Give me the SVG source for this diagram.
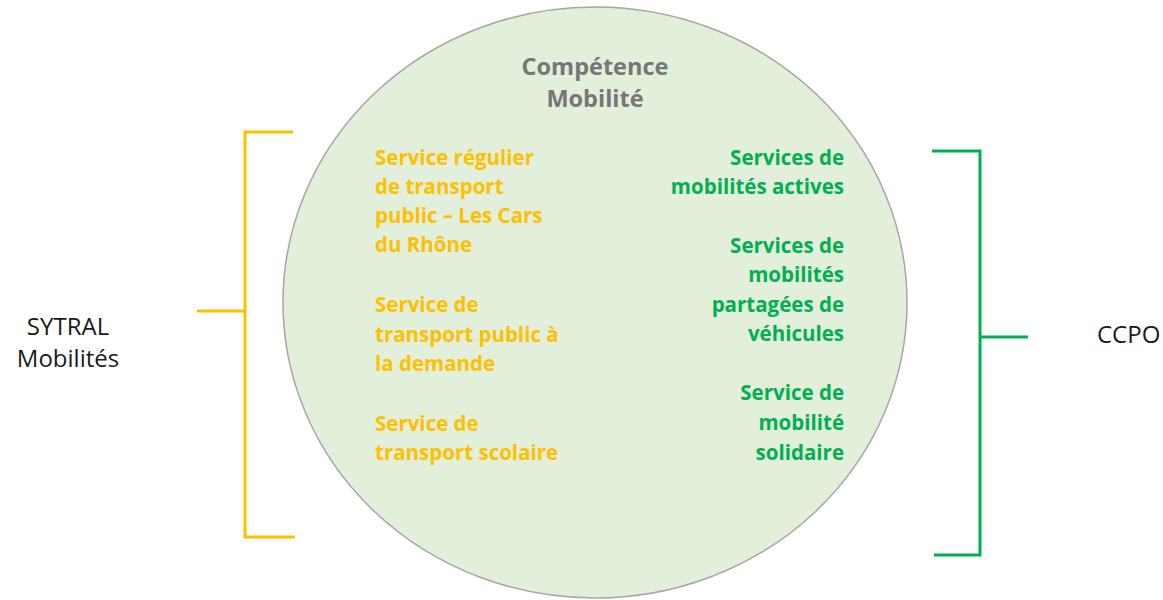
<svg xmlns="http://www.w3.org/2000/svg" width="1163" height="600" viewBox="0 0 1163 600">
<style>
.t{font-family:"Open Sans","Liberation Sans",sans-serif;}
.b{font-weight:bold;font-size:20.5px;}
.org{fill:#FFC000;}
.grn{fill:#00B050;}
.lbl{font-size:24px;fill:#1a1a1a;}
.br{fill:none;stroke-width:3;stroke-linejoin:miter;}
</style>
<rect width="1163" height="600" fill="#ffffff"/>
<g id="circle">
<ellipse cx="595" cy="302.5" rx="312" ry="295.5" fill="#E2EFDA" stroke="#A6A6A6" stroke-width="1.5"/>
<text class="t" x="595" y="75" text-anchor="middle" font-weight="bold" font-size="23.5" fill="#767676">Compétence</text>
<text class="t" x="595" y="107" text-anchor="middle" font-weight="bold" font-size="23.5" fill="#767676">Mobilité</text>
</g>
<g id="orange-services" class="t b org">
<text x="375" y="165">Service régulier</text>
<text x="375" y="194">de transport</text>
<text x="375" y="223">public – Les Cars</text>
<text x="375" y="252">du Rhône</text>
<text x="375" y="312">Service de</text>
<text x="375" y="342">transport public à</text>
<text x="375" y="371">la demande</text>
<text x="375" y="431">Service de</text>
<text x="375" y="460">transport scolaire</text>
</g>
<g id="green-services" class="t b grn" text-anchor="end">
<text x="844" y="165">Services de</text>
<text x="844" y="194">mobilités actives</text>
<text x="844" y="253">Services de</text>
<text x="844" y="282">mobilités</text>
<text x="844" y="312">partagées de</text>
<text x="844" y="341">véhicules</text>
<text x="844" y="400">Service de</text>
<text x="844" y="430">mobilité</text>
<text x="844" y="460">solidaire</text>
</g>
<g id="connectors">
<path class="br" stroke="#FFC000" d="M293,132 H245 V537 H295 M197,311 H245"/>
<path class="br" stroke="#00B050" d="M932,151 H980 V555 H934 M980,337 H1028"/>
</g>
<g id="sytral">
<text class="t lbl" x="68" y="335" text-anchor="middle">SYTRAL</text>
<text class="t lbl" x="68" y="367" text-anchor="middle">Mobilités</text>
</g>
<g id="ccpo">
<text class="t lbl" x="1097" y="343">CCPO</text>
</g>
</svg>
